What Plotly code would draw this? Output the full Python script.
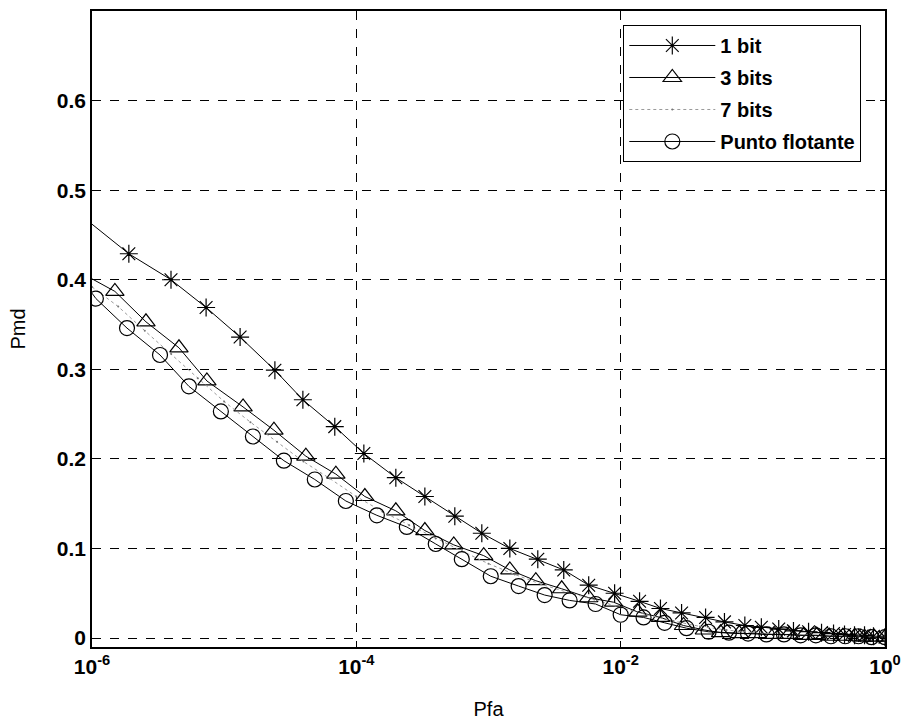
import plotly.graph_objects as go

# 1 bit
pfa_1bit = [1.0e-6, 1.9e-6, 3.96e-6, 7.3e-6, 1.32e-5, 2.42e-5, 3.94e-5, 6.87e-5, 1.14e-4,
            1.99e-4, 3.30e-4, 5.56e-4, 8.9e-4, 1.45e-3, 2.36e-3, 3.71e-3, 5.73e-3, 9.0e-3,
            1.39e-2, 2.0e-2, 2.89e-2, 4.39e-2, 6.1e-2, 8.7e-2, 0.116, 0.157, 0.203, 0.264,
            0.331, 0.408, 0.494, 0.588, 0.70, 0.818, 1.0]
pmd_1bit = [0.462, 0.429, 0.400, 0.369, 0.336, 0.299, 0.266, 0.236, 0.206,
            0.179, 0.158, 0.136, 0.117, 0.100, 0.088, 0.076, 0.059, 0.050,
            0.041, 0.033, 0.028, 0.023, 0.018, 0.014, 0.012, 0.010, 0.008, 0.007,
            0.006, 0.005, 0.004, 0.003, 0.003, 0.002, 0.001]

# 3 bits
pfa_3bit = [1.0e-6, 1.49e-6, 2.56e-6, 4.55e-6, 7.4e-6, 1.39e-5, 2.38e-5, 4.15e-5, 7.0e-5,
            1.16e-4, 1.99e-4, 3.30e-4, 5.46e-4, 9.2e-4, 1.45e-3, 2.28e-3, 3.58e-3, 5.73e-3,
            8.85e-3, 1.35e-2, 2.0e-2, 2.99e-2, 4.3e-2, 5.7e-2, 7.9e-2, 0.108, 0.145, 0.188,
            0.243, 0.305, 0.38, 0.48, 0.59, 0.70, 0.83, 1.0]
pmd_3bit = [0.401, 0.387, 0.353, 0.324, 0.287, 0.258, 0.232, 0.203, 0.183,
            0.158, 0.142, 0.120, 0.104, 0.092, 0.076, 0.064, 0.055, 0.045,
            0.040, 0.029, 0.023, 0.014, 0.009, 0.006, 0.005, 0.005, 0.004, 0.004,
            0.003, 0.003, 0.002, 0.002, 0.002, 0.001, 0.001, 0.001]

# 7 bits
pfa_7bit = [1.0e-6, 1.58e-6, 2.51e-6, 3.98e-6, 6.31e-6, 1.0e-5, 1.58e-5, 2.51e-5, 3.98e-5,
            6.31e-5, 1.0e-4, 1.58e-4, 2.51e-4, 3.98e-4, 6.31e-4, 1.0e-3, 1.58e-3, 2.51e-3,
            3.98e-3, 6.31e-3, 1.0e-2, 1.58e-2, 2.51e-2, 3.98e-2, 6.31e-2, 0.1, 0.158, 0.251,
            0.398, 0.631, 1.0]
pmd_7bit = [0.392, 0.370, 0.343, 0.317, 0.290, 0.264, 0.241, 0.219, 0.197,
            0.178, 0.158, 0.141, 0.126, 0.111, 0.097, 0.083, 0.071, 0.060,
            0.051, 0.043, 0.034, 0.026, 0.019, 0.013, 0.009, 0.006, 0.004, 0.003,
            0.002, 0.002, 0.001]

# Punto flotante
pfa_float = [1.0e-6, 1.07e-6, 1.84e-6, 3.27e-6, 5.41e-6, 9.44e-6, 1.65e-5, 2.83e-5, 4.85e-5,
             8.33e-5, 1.43e-4, 2.41e-4, 3.99e-4, 6.28e-4, 1.04e-3, 1.69e-3, 2.66e-3, 4.11e-3,
             6.46e-3, 1.0e-2, 1.49e-2, 2.15e-2, 3.15e-2, 4.63e-2, 6.6e-2, 9.2e-2, 0.127,
             0.172, 0.23, 0.30, 0.39, 0.50, 0.63, 0.79, 1.0]
pmd_float = [0.385, 0.379, 0.346, 0.316, 0.281, 0.253, 0.225, 0.198, 0.177,
             0.153, 0.137, 0.124, 0.105, 0.088, 0.069, 0.058, 0.048, 0.042,
             0.038, 0.026, 0.023, 0.017, 0.011, 0.007, 0.006, 0.005, 0.004,
             0.004, 0.003, 0.003, 0.002, 0.002, 0.002, 0.001, 0.001]

x_tickvals = [1e-6, 1e-4, 1e-2, 1]
x_ticktext = ["10<sup>-6</sup>", "10<sup>-4</sup>", "10<sup>-2</sup>", "10<sup>0</sup>"]
y_tickvals = [0, 0.1, 0.2, 0.3, 0.4, 0.5, 0.6]
y_ticktext = ["0", "0.1", "0.2", "0.3", "0.4", "0.5", "0.6"]

FONT = "Liberation Sans, Arial, sans-serif"

fig = go.Figure()

fig.add_trace(go.Scatter(
    x=pfa_1bit, y=pmd_1bit, name="1 bit", mode="lines+markers",
    line=dict(color="black", width=1),
    marker=dict(symbol="asterisk-open", size=15, color="black",
                line=dict(color="black", width=1.2),
                opacity=[0] + [1] * (len(pfa_1bit) - 1)),
    legendgroup="a"))
fig.add_trace(go.Scatter(
    x=pfa_3bit, y=pmd_3bit, name="3 bits", mode="lines+markers",
    line=dict(color="black", width=1),
    marker=dict(symbol="triangle-up-open", size=16, color="black",
                line=dict(color="black", width=1.2),
                opacity=[0] + [1] * (len(pfa_3bit) - 1)),
    legendgroup="b"))
fig.add_trace(go.Scatter(
    x=pfa_7bit, y=pmd_7bit, name="7 bits", mode="lines+markers",
    line=dict(color="#9a9a9a", width=1, dash="dot"),
    marker=dict(symbol="circle", size=2, color="#777777"),
    legendgroup="c"))
fig.add_trace(go.Scatter(
    x=pfa_float, y=pmd_float, name="Punto flotante", mode="lines+markers",
    line=dict(color="black", width=1),
    marker=dict(symbol="circle-open", size=15, color="black",
                line=dict(color="black", width=1.2),
                opacity=[0] + [1] * (len(pfa_float) - 1)),
    legendgroup="d"))

axis_common = dict(
    showline=True, linecolor="black", linewidth=1.5, mirror="ticks",
    ticks="inside", ticklen=5, tickcolor="black",
    showgrid=True, gridcolor="black", gridwidth=1, griddash="dash",
    zeroline=False, automargin=False,
    tickfont=dict(family=FONT, size=21, color="black", weight=700),
)

fig.update_xaxes(type="log", range=[-6, 0], tickvals=x_tickvals, ticktext=x_ticktext,
                 title=dict(text="Pfa", font=dict(family=FONT, size=20, color="black"),
                            standoff=25),
                 **axis_common)
fig.update_yaxes(range=[-0.01, 0.7], tickvals=y_tickvals, ticktext=y_ticktext,
                 title=dict(text="Pmd", font=dict(family=FONT, size=20, color="black"),
                            standoff=26),
                 **axis_common)

fig.update_layout(
    width=902, height=720,
    margin=dict(l=92, r=17, t=11, b=73),
    paper_bgcolor="white", plot_bgcolor="white",
    showlegend=True,
    legend=dict(x=0.670, y=0.978, xanchor="left", yanchor="top",
                bgcolor="white", bordercolor="black", borderwidth=1,
                font=dict(family=FONT, size=20, color="black", weight=700),
                itemwidth=86, tracegroupgap=3),
)

fig.write_html("out.html")
